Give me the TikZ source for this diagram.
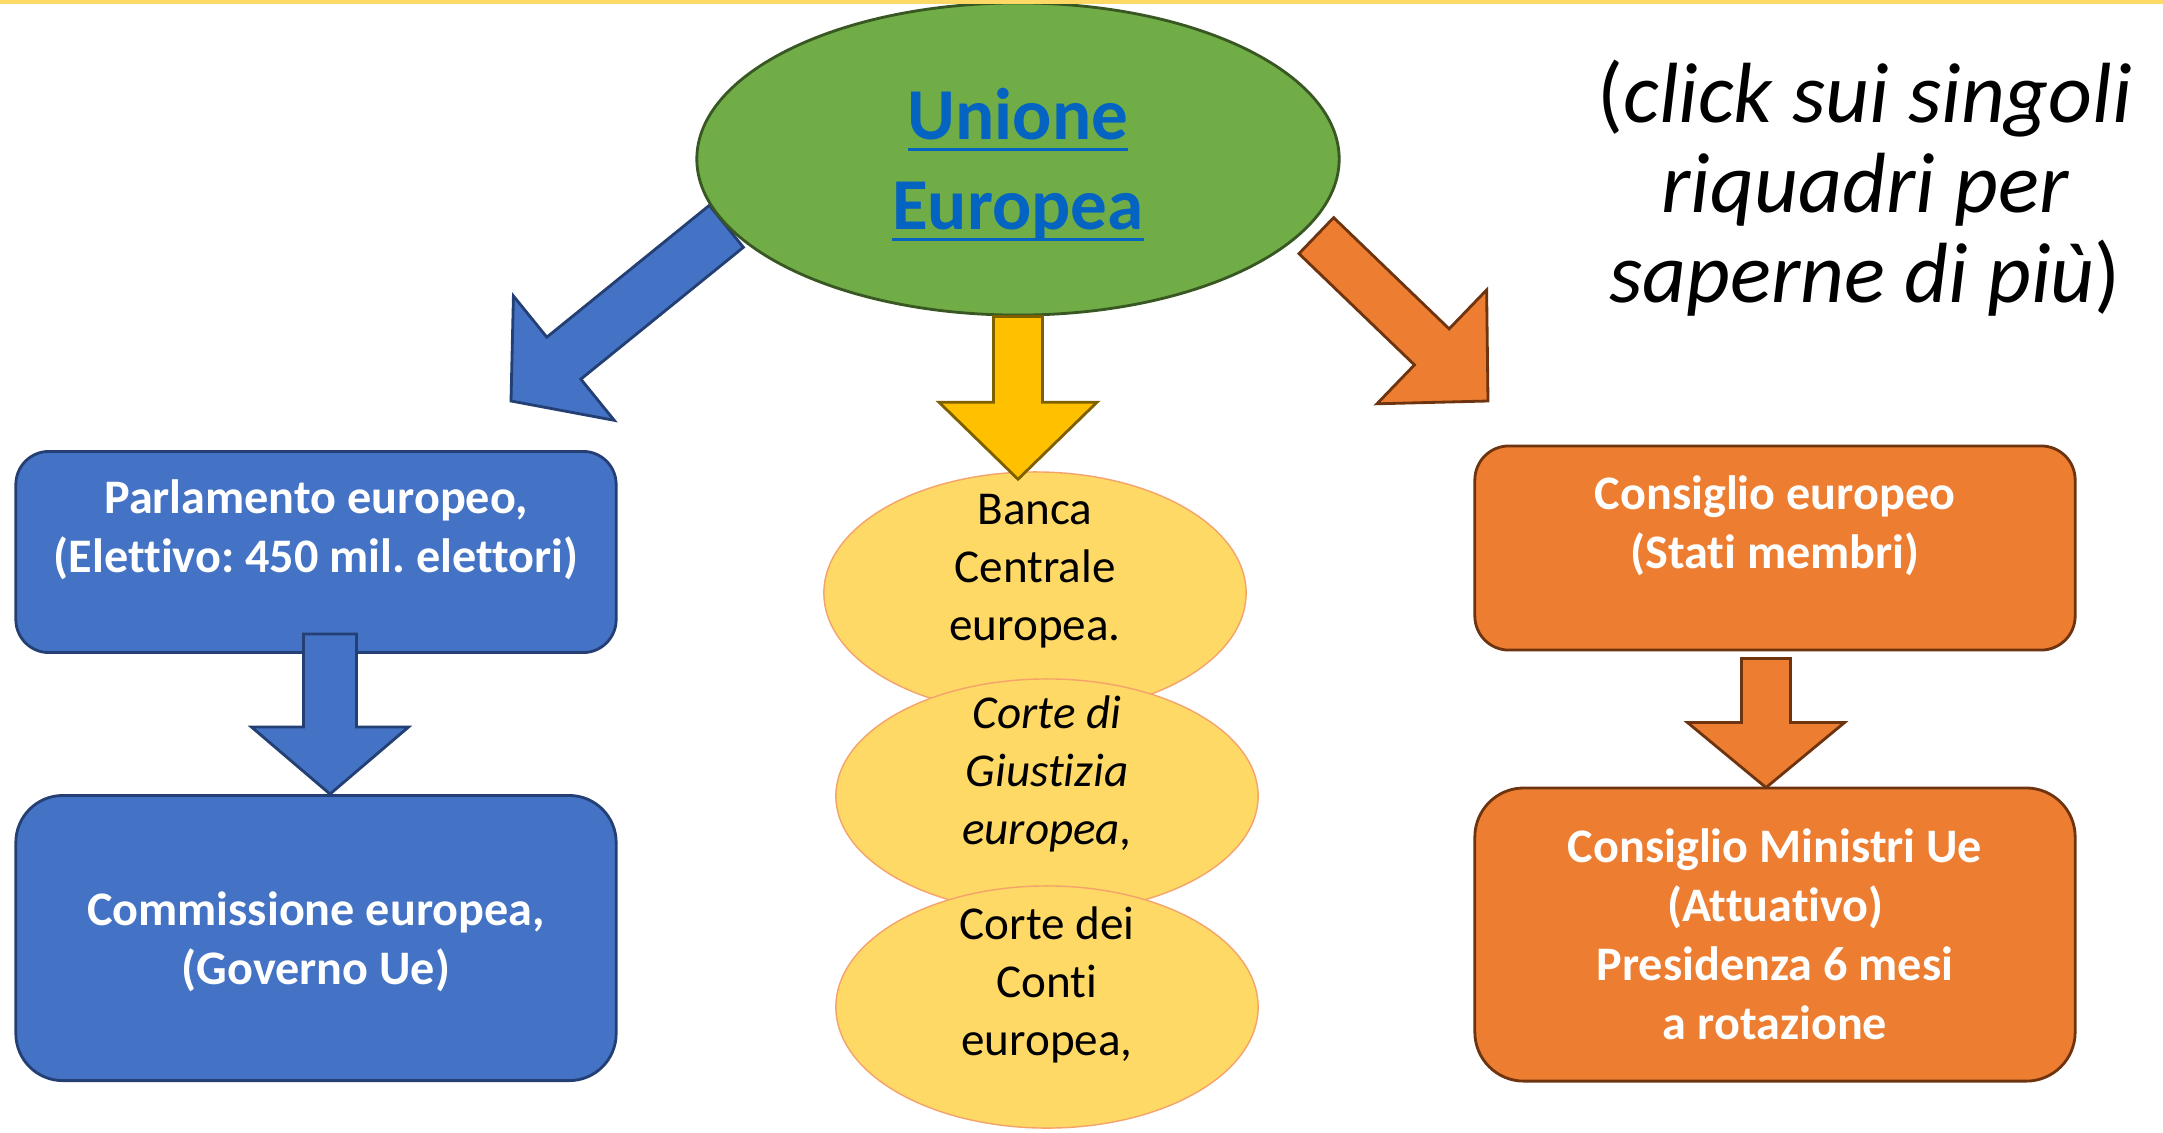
\documentclass[tikz,border=0pt]{standalone}
\usepackage{fontspec}
\setmainfont{Carlito}[Ligatures=NoCommon]
\frenchspacing
\usetikzlibrary{positioning,calc,backgrounds,shapes.geometric}

\definecolor{euGreen}{HTML}{70AD47}
\definecolor{euGreenDark}{HTML}{385723}
\definecolor{linkBlue}{HTML}{0563C1}
\definecolor{boxBlue}{HTML}{4472C4}
\definecolor{boxBlueDark}{HTML}{233F73}
\definecolor{boxOrange}{HTML}{ED7D31}
\definecolor{boxOrangeDark}{HTML}{6E340F}
\definecolor{arrowGold}{HTML}{FFC000}
\definecolor{arrowGoldDark}{HTML}{7F6000}
\definecolor{organFill}{HTML}{FFD966}
\definecolor{organLine}{HTML}{F4A36A}
\definecolor{topLine}{HTML}{FFD966}

\newcommand{\linkul}[1]{\setbox0=\hbox{#1}\rlap{\rule[-3.3pt]{\wd0}{1pt}}\box0}

% block arrow: style, from, to, shaft half width, head half width, head length
\newcommand{\blockarrow}[6]{%
  \coordinate (ba base) at ($(#3)!#6!(#2)$);
  \draw[#1] ($(#2)!#4!90:(#3)$) -- ($(ba base)!#4!-90:(#2)$)
    -- ($(ba base)!#5!-90:(#2)$) -- (#3)
    -- ($(ba base)!#5!90:(#2)$) -- ($(ba base)!#4!90:(#2)$)
    -- ($(#2)!#4!-90:(#3)$) -- cycle;
}

\begin{document}
\begin{tikzpicture}[
    x=0.01cm, y=-0.01cm,
    every node/.style={align=center},
    union/.style={ellipse, draw=euGreenDark, fill=euGreen, line width=0.8pt, minimum width=6.42cm, minimum height=3.12cm, inner sep=0pt, text=linkBlue, font=\fontsize{20.8}{25.6}\selectfont\bfseries},
    bluebox/.style={rectangle, draw=boxBlueDark, fill=boxBlue, line width=0.8pt, minimum width=6cm, text=white, font=\fontsize{13.7}{16.8}\selectfont\bfseries},
    orangebox/.style={bluebox, draw=boxOrangeDark, fill=boxOrange},
    organ/.style={ellipse, draw=organLine, fill=organFill, line width=0.4pt, minimum width=4.22cm, minimum height=2.42cm, inner sep=0pt},
    organtext/.style={font=\fontsize{13.4}{16.5}\selectfont, text=black},
    hint/.style={font=\fontsize{24.3}{25.6}\selectfont\itshape},
    bluearrow/.style={draw=boxBlueDark, fill=boxBlue, line width=0.8pt},
    orangearrow/.style={draw=boxOrangeDark, fill=boxOrange, line width=0.8pt},
    goldarrow/.style={draw=arrowGoldDark, fill=arrowGold, line width=0.8pt}
]
\node[union, text depth=-1.4pt] (eu) at (1018,159) {\linkul{Unione}\\\linkul{Europea}};

\node[bluebox, minimum height=2.01cm, rounded corners=0.33cm] (pe) at (316,552) {Parlamento europeo,\\(Elettivo: 450 mil. elettori)\\[-2pt]\mbox{}};
\node[bluebox, below=1.4cm of pe, minimum height=2.85cm, rounded corners=0.47cm, text depth=0pt] (ce) {Commissione europea,\\(Governo Ue)};

\node[orangebox, minimum height=2.04cm, rounded corners=0.34cm] (cons) at (1775,548) {Consiglio europeo\\(Stati membri)\\[-2pt]\mbox{}};
\node[orangebox, below=1.35cm of cons, minimum height=2.93cm, rounded corners=0.49cm] (cm) {Consiglio Ministri Ue\\(Attuativo)\\Presidenza 6 mesi\\a rotazione};

\node[organ, label={[organtext]center:{Banca\\Centrale\\europea.\\[-2pt]\mbox{}}}] (bce) at (1035,593) {};
\node[organ, minimum height=2.34cm, label={[organtext]center:{\itshape Corte di\\\itshape Giustizia\\\itshape europea,\\[-2pt]\mbox{}}}] (cg) at (1047,796) {};
\node[organ, label={[organtext]center:{Corte dei\\Conti\\europea,\\[-2pt]\mbox{}}}] (cc) at (1047,1007) {};

\node[hint] (hint) at (1865,188) {\textup{(}click sui singoli\\riquadri per\\saperne di più\textup{)}};

\coordinate (eu left) at (eu.193);
\coordinate (eu right) at ($(eu.346)+(11,5)$);
\coordinate (pe tip) at (511,401);
\coordinate (cons tip) at (1488,401);
\coordinate (pe out) at ($(pe.south)+(14,-20)$);
\coordinate (ce in) at ($(ce.north)+(14,0)$);
\coordinate (cons out) at ($(cons.south)+(-9,7)$);
\coordinate (cm in) at ($(cm.north)+(-9,1)$);
\coordinate (bce in) at ($(eu.south |- bce.north)+(0,8)$);

\blockarrow{goldarrow}{eu.south}{bce in}{0.245cm}{0.79cm}{0.77cm}
\blockarrow{bluearrow}{pe out}{ce in}{0.265cm}{0.785cm}{0.67cm}
\blockarrow{orangearrow}{cons out}{cm in}{0.245cm}{0.785cm}{0.65cm}

\begin{pgfonlayer}{background}
\path[fill=white, use as bounding box] (0,0) rectangle (2163,1133);
\blockarrow{bluearrow}{eu left}{pe tip}{0.27cm}{0.80cm}{0.68cm}
\blockarrow{orangearrow}{eu right}{cons tip}{0.25cm}{0.79cm}{0.78cm}
\end{pgfonlayer}

\fill[topLine] (0,0) rectangle (2163,4);
\end{tikzpicture}
\end{document}
